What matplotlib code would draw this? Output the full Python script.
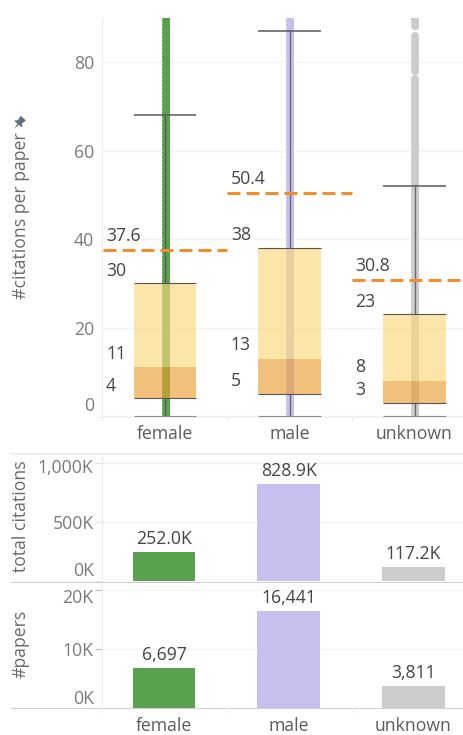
"""Citations per paper by gender: box summary over paper strips, plus two bar panels."""
import matplotlib
matplotlib.use('Agg')
import matplotlib.pyplot as plt
from matplotlib.patches import Polygon
from matplotlib.transforms import Affine2D, ScaledTranslation
import numpy as np

W, H = 463, 735
DPI = 100

CATEGORIES = ['female', 'male', 'unknown']
COLORS = ['#59A14F', '#C5C0EE', '#CCCCCC']

WHISKER_LOW = [0, 0, 0]
Q1 = [4, 5, 3]
MEDIAN = [11, 13, 8]
Q3 = [30, 38, 23]
WHISKER_HIGH = [68, 87, 52]
MEANS = [37.6, 50.4, 30.8]

# stretches of the y axis that are covered by paper dots, per category
STRIP_RANGES = [
    [(0, 92)],
    [(0, 92)],
    [(0, 76.3), (78.1, 86), (88.2, 92)],
]

TOTAL_CITATIONS = [252.0, 828.9, 117.2]  # thousands
N_PAPERS = [6697, 16441, 3811]

BOX_TICKS = [0, 20, 40, 60, 80]
CITATION_TICKS = [0, 500, 1000]
CITATION_TICK_LABELS = ['0K', '500K', '1,000K']
PAPER_TICKS = [0, 10000, 20000]
PAPER_TICK_LABELS = ['0K', '10K', '20K']

TICK_GRAY = '#7b7b7b'
TITLE_GRAY = '#6a6a6a'
VALUE_GRAY = '#454545'
GRID = '#f3f3f3'
RULE = '#cfcfcf'
LINE_DARK = '#555555'
FONT_SIZE = 12.7

plt.rcParams['font.family'] = ['Open Sans', 'DejaVu Sans']
plt.rcParams['lines.scale_dashes'] = False

px = 72 / DPI  # points in one image pixel


def make_axes(fig, left, top, right, bottom):
    return fig.add_axes([left / W, 1 - bottom / H, (right - left) / W, (bottom - top) / H])


def style_axes(ax, center0, ylim, ticks, labels, label_shift, tick_len=5, pad=1, tick_color='#e2e2e2'):
    step = 124.75
    ax.set_xlim((102 - center0) / step, (W - center0) / step)
    ax.set_ylim(*ylim)
    ax.set_xticks([])
    ax.set_yticks(ticks)
    ax.set_yticklabels(labels, fontsize=FONT_SIZE, color=TICK_GRAY)
    ax.tick_params(axis='y', length=tick_len, width=0.8, color=tick_color, pad=pad)
    ax.grid(axis='y', color=GRID, linewidth=1)
    ax.set_axisbelow(True)
    for spine in ax.spines.values():
        spine.set_visible(False)
    ax.spines['left'].set_visible(True)
    ax.spines['left'].set_color('#ececec')
    ax.patch.set_alpha(0)
    for lbl, dy in zip(ax.get_yticklabels(), label_shift):
        lbl.set_transform(lbl.get_transform() + ScaledTranslation(0, dy / DPI, ax.figure.dpi_scale_trans))


def draw_box_panel(ax):
    strip_shift = ax.transData + ScaledTranslation(0.7 / DPI, 0, ax.figure.dpi_scale_trans)
    for i, color in enumerate(COLORS):
        for low, high in STRIP_RANGES[i]:
            cap = 'round' if i == 2 else 'butt'
            ax.plot([i, i], [low, high], color=color, lw=8 * px, solid_capstyle=cap,
                    transform=strip_shift, zorder=1)
            ax.plot([i, i], [low, high], color='white', lw=8 * px, alpha=0.35, zorder=1.1,
                    linestyle=(0, (2 * px, 2 * px)), transform=strip_shift)
            ax.plot([i, i], [low, high], color=color, lw=7 * px, solid_capstyle=cap,
                    transform=strip_shift, zorder=1.2)

    x = np.arange(len(CATEGORIES))
    box_w = 0.502
    ax.vlines(x, Q3, WHISKER_HIGH, color=LINE_DARK, lw=1.3 * px, alpha=0.85, zorder=2)
    ax.vlines(x, WHISKER_LOW, Q1, color=LINE_DARK, lw=1.3 * px, alpha=0.85, zorder=2)
    ax.bar(x, np.subtract(Q3, MEDIAN), box_w, bottom=MEDIAN, color=(249 / 255, 216 / 255, 123 / 255, 0.66), zorder=3)
    ax.bar(x, np.subtract(MEDIAN, Q1), box_w, bottom=Q1, color=(234 / 255, 157 / 255, 46 / 255, 0.63), zorder=3)
    ax.hlines(WHISKER_HIGH, x - box_w / 2, x + box_w / 2, color=LINE_DARK, lw=1.5 * px, zorder=4)
    ax.hlines(Q3, x - box_w / 2, x + box_w / 2, color=LINE_DARK, lw=1.1 * px, zorder=4)
    ax.hlines(Q1, x - box_w / 2, x + box_w / 2, color=LINE_DARK, lw=1.1 * px, zorder=4)
    ax.hlines(WHISKER_LOW, x - box_w / 2, x + box_w / 2, color='#8c8c8c', lw=1.1 * px, zorder=4, clip_on=False)

    for i in x:
        ax.plot([i - 0.5, i + 0.5], [MEANS[i], MEANS[i]], color='#F28E2B', lw=3 * px, zorder=5,
                linestyle=(0, (13 * px, 6 * px)), dash_capstyle='butt')
        for value, text, lift in [(MEANS[i], f'{MEANS[i]}', 14.2), (Q3[i], f'{Q3[i]}', 12.5),
                                  (MEDIAN[i], f'{MEDIAN[i]}', 13.2), (Q1[i], f'{Q1[i]}', 12.6)]:
            ax.annotate(text, (i - 0.5, value), xytext=(3.5 * px, lift * px), textcoords='offset points',
                        ha='left', va='center', fontsize=FONT_SIZE, color=VALUE_GRAY, zorder=6)


def draw_bars(ax, values, texts):
    x = np.arange(len(CATEGORIES))
    ax.bar(x, values, 0.504, color=COLORS, zorder=2)
    for i, value in enumerate(values):
        ax.annotate(texts[i], (i, value), xytext=(0, 13 * px), textcoords='offset points',
                    ha='center', va='center', fontsize=FONT_SIZE, color=VALUE_GRAY, zorder=3)


def add_category_labels(ax, y_px):
    for i, cat in enumerate(CATEGORIES):
        ax.annotate(cat, (i, 0), xycoords=ax.get_xaxis_transform(), xytext=(0, -y_px * px),
                    textcoords='offset points', ha='center', va='center', fontsize=FONT_SIZE, color='#5c5c5c')


def add_furniture(fig):
    # horizontal rules that run the full width of the dashboard
    for y, color, width in [(454, '#eeeeee', 2), (581.5, RULE, 1), (708, RULE, 1)]:
        fig.add_artist(plt.Line2D([11 / W, 1], [1 - y / H] * 2, color=color, lw=width * px))
    fig.add_artist(plt.Line2D([97 / W, 1], [1 - 416.8 / H] * 2, color='#efefef', lw=px))
    for x in [102, 227, 352]:
        fig.add_artist(plt.Line2D([x / W] * 2, [1 - 417 / H, 1 - 421 / H], color='#efefef', lw=px))
        fig.add_artist(plt.Line2D([x / W] * 2, [1 - 708 / H, 1 - 712 / H], color='#efefef', lw=px))

    for text, x, y in [('#citations per paper', 21, 216), ('total citations', 21, 516), ('#papers', 21, 644)]:
        fig.text(x / W, 1 - y / H, text, rotation=90, ha='center', va='center', fontsize=FONT_SIZE, color=TITLE_GRAY)

    # pin icon next to the y title, drawn in image pixels
    pin = [(-2.8, -4.6), (2.8, -4.6), (2.1, -0.8), (4.2, 1.8), (0.7, 1.8), (0, 6.5), (-0.7, 1.8), (-4.2, 1.8), (-2.1, -0.8)]
    place = Affine2D().scale(1.25).rotate_deg(40).scale(1, -1).translate(19.5, H - 122.5)
    fig.add_artist(Polygon(pin, closed=True, color='#5f6e82', lw=0, transform=place))


def main():
    fig = plt.figure(figsize=(W / DPI, H / DPI), dpi=DPI)

    ax_box = make_axes(fig, 102, 18, W, 416.7)
    style_axes(ax_box, 165, (-0.15, 90), BOX_TICKS, [str(t) for t in BOX_TICKS], [12, 0, 0, 0, 0],
               tick_len=0, pad=5.5)
    draw_box_panel(ax_box)
    add_category_labels(ax_box, 17.5)

    ax_cit = make_axes(fig, 102, 454, W, 581.3)
    style_axes(ax_cit, 164, (0, 1079), CITATION_TICKS, CITATION_TICK_LABELS, [12, 0, -3])
    draw_bars(ax_cit, TOTAL_CITATIONS, [f'{v:.1f}K' for v in TOTAL_CITATIONS])

    ax_pap = make_axes(fig, 102, 582, W, 708)
    style_axes(ax_pap, 164, (0, 21356), PAPER_TICKS, PAPER_TICK_LABELS, [11.5, 0, -5.5], tick_color='#b5b5b5')
    draw_bars(ax_pap, N_PAPERS, [f'{v:,}' for v in N_PAPERS])
    add_category_labels(ax_pap, 18)

    add_furniture(fig)
    fig.savefig('out.png', dpi=DPI)
    plt.close(fig)


if __name__ == "__main__":
    main()
